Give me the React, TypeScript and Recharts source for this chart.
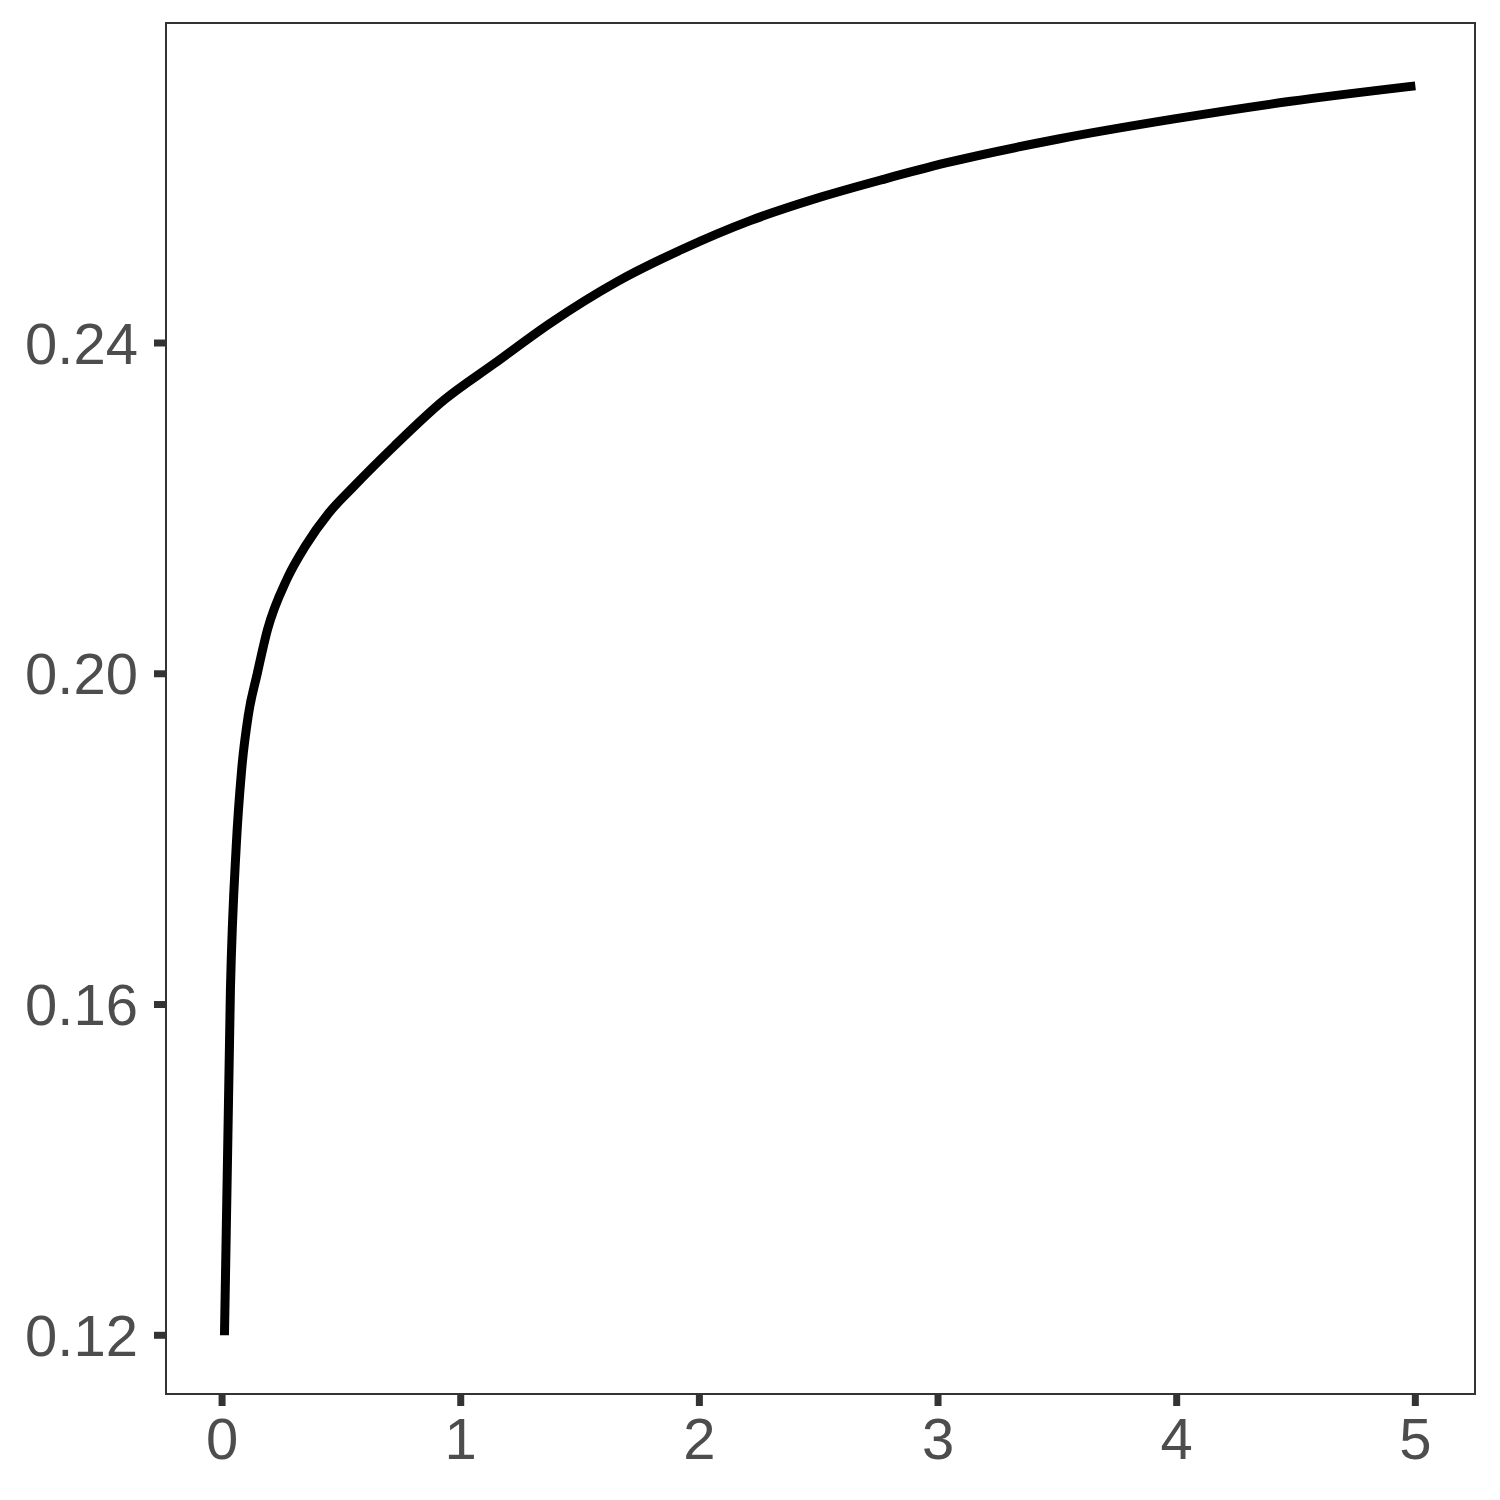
import { LineChart, Line, XAxis, YAxis, ReferenceArea } from 'recharts';

// values
const xValues = [0.01, 0.035, 0.059, 0.082, 0.11, 0.148, 0.19, 0.271, 0.348, 0.446, 0.55, 0.72, 0.93, 1.14, 1.375, 1.654, 1.933, 2.213, 2.492, 2.772, 3.037, 3.51, 3.99, 4.47, 5.0];
const yValues = [0.12, 0.1619, 0.179, 0.1884, 0.195, 0.2001, 0.2053, 0.2114, 0.2154, 0.2194, 0.2226, 0.2275, 0.2331, 0.2375, 0.2424, 0.2474, 0.2514, 0.2548, 0.2575, 0.2598, 0.2618, 0.2647, 0.2671, 0.2692, 0.2711];

const xTicks = [0, 1, 2, 3, 4, 5];
const yTicks = [0.12, 0.16, 0.2, 0.24];

const X_DOMAIN: [number, number] = [-0.235, 5.25];
const Y_DOMAIN: [number, number] = [0.1129, 0.2787];

const data = xValues.map((x, i) => ({ x, y: yValues[i] }));

const tickStyle = { fill: '#4d4d4d', fontSize: 58, fontFamily: '"Liberation Sans", Arial, sans-serif' };

export default function App() {
  return (
    <div style={{ position: 'absolute', left: 0, top: 0, width: 1500, height: 1500, background: '#fff' }}>
      <LineChart width={1500} height={1500} data={data} margin={{ top: 23, right: 25, left: 0, bottom: 0 }}>
        <XAxis
          dataKey="x"
          type="number"
          domain={X_DOMAIN}
          ticks={xTicks}
          interval={0}
          allowDataOverflow
          height={106}
          axisLine={false}
          tickSize={12}
          tickMargin={12}
          tickLine={{ stroke: '#333333', strokeWidth: 7 }}
          tick={tickStyle}
        />
        <YAxis
          type="number"
          domain={Y_DOMAIN}
          ticks={yTicks}
          interval={0}
          allowDataOverflow
          width={166}
          axisLine={false}
          tickSize={12}
          tickMargin={16}
          tickLine={{ stroke: '#333333', strokeWidth: 7 }}
          tick={tickStyle}
          tickFormatter={(v: number) => v.toFixed(2)}
        />
        {/* panel border */}
        <ReferenceArea
          x1={X_DOMAIN[0]}
          x2={X_DOMAIN[1]}
          y1={Y_DOMAIN[0]}
          y2={Y_DOMAIN[1]}
          fill="none"
          stroke="#333333"
          strokeWidth={2}
          ifOverflow="visible"
        />
        <Line
          dataKey="y"
          type="monotone"
          stroke="#000000"
          strokeWidth={9}
          dot={false}
          isAnimationActive={false}
        />
      </LineChart>
    </div>
  );
}
